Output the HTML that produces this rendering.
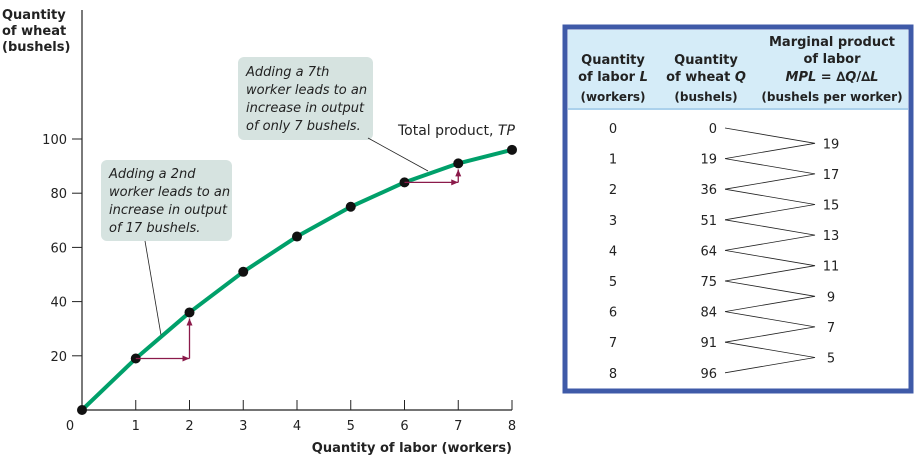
<!DOCTYPE html>
<html><head><meta charset="utf-8"><style>
body{margin:0;background:#fff;width:921px;height:460px;overflow:hidden;font-family:"DejaVu Sans","Liberation Sans",sans-serif}
svg{position:absolute;left:0;top:0}
</style></head><body>
<svg width="921" height="460">
<g id="axes"></g>
<g id="annot"></g>
<g id="table"></g>
</svg>
<script>
const labor=[0,1,2,3,4,5,6,7,8];
const wheat=[0,19,36,51,64,75,84,91,96];
const mpl=[19,17,15,13,11,9,7,5];
const yTicks=[20,40,60,80,100];
const NS="http://www.w3.org/2000/svg";
const X=v=>82+v*53.75, Y=v=>410-v*2.71;
function mk(p,t,a,txt){const e=document.createElementNS(NS,t);for(const k in a)e.setAttribute(k,a[k]);if(txt!==undefined)e.textContent=txt;p.appendChild(e);return e;}
const ax=document.getElementById('axes'),an=document.getElementById('annot'),tb=document.getElementById('table');
let e;
e=mk(ax,'path',{d:`M82,10 V410 H512`,stroke:'#222',fill:'none','stroke-width':1.2});

labor.forEach(v=>{ if(v>0){e=mk(ax,'line',{x1:X(v),x2:X(v),y1:400,y2:410,stroke:'#222'});}
 e=mk(ax,'text',{x:v==0?70:X(v),y:430,'font-size':13,'text-anchor':'middle',fill:'#222'},v);});
yTicks.forEach(v=>{e=mk(ax,'line',{x1:72,x2:82,y1:Y(v),y2:Y(v),stroke:'#222'});
 e=mk(ax,'text',{x:67,y:Y(v)+5,'font-size':13,'text-anchor':'end',fill:'#222'},v);});
[['Quantity',19],['of wheat',35],['(bushels)',51]].forEach(([t,y])=>{e=mk(ax,'text',{x:2,y:y,'font-size':13,'font-weight':'bold',fill:'#222'},t);});
e=mk(ax,'text',{x:512,y:452,'font-size':13,'font-weight':'bold','text-anchor':'end',fill:'#222'},'Quantity of labor (workers)');

e=mk(an,'rect',{x:101,y:160,width:131,height:81,rx:6,fill:'#d6e3e0'});
['Adding a 2nd','worker leads to an','increase in output','of 17 bushels.'].forEach((t,i)=>{e=mk(an,'text',{x:109,y:178+i*18,'font-size':13,'font-style':'italic',fill:'#222'},t);});
e=mk(an,'line',{x1:145,y1:241,x2:161,y2:335,stroke:'#222','stroke-width':0.8});
e=mk(an,'rect',{x:238,y:57,width:135,height:83,rx:6,fill:'#d6e3e0'});
['Adding a 7th','worker leads to an','increase in output','of only 7 bushels.'].forEach((t,i)=>{e=mk(an,'text',{x:246,y:76+i*18,'font-size':13,'font-style':'italic',fill:'#222'},t);});
e=mk(an,'line',{x1:368,y1:138,x2:428,y2:171,stroke:'#222','stroke-width':0.8});
e=mk(an,'text',{x:398,y:135,'font-size':14,fill:'#222'});
e.innerHTML='Total product, <tspan font-style="italic">TP</tspan>';
e=mk(ax,'polyline',{points:labor.map((v,i)=>X(v)+','+Y(wheat[i])).join(' '),fill:'none',stroke:'#00a06a','stroke-width':4,'stroke-linejoin':'round'});

function arrow(x1,y1,x2,y2){e=mk(an,'line',{x1,y1,x2,y2,stroke:'#8b1a4a','stroke-width':1.3});
 const a=Math.atan2(y2-y1,x2-x1),s=7;const p=[[x2,y2],[x2-s*Math.cos(a)+3*Math.sin(a),y2-s*Math.sin(a)-3*Math.cos(a)],[x2-s*Math.cos(a)-3*Math.sin(a),y2-s*Math.sin(a)+3*Math.cos(a)]];
 e=mk(an,'polygon',{points:p.map(q=>q.join(',')).join(' '),fill:'#8b1a4a'});}
arrow(X(1),Y(wheat[1]),X(2),Y(wheat[1]));arrow(X(2),Y(wheat[1]),X(2),Y(wheat[2])+6);
arrow(X(6),Y(wheat[6]),X(7),Y(wheat[6]));arrow(X(7),Y(wheat[6]),X(7),Y(wheat[7])+6);
labor.forEach((v,i)=>{e=mk(ax,'circle',{cx:X(v),cy:Y(wheat[i]),r:5,fill:'#111'});});
e=mk(tb,'rect',{x:565,y:27,width:346,height:364,fill:'#fff',stroke:'#3f5aa8','stroke-width':5});
e=mk(tb,'rect',{x:568,y:30,width:340,height:78,fill:'#d5ecf8'});
e=mk(tb,'line',{x1:568,x2:908,y1:109,y2:109,stroke:'#8fc2e6','stroke-width':1.5});
const hd=[[613,['Quantity','of labor <tspan font-style="italic">L</tspan>'],'(workers)'],[706,['Quantity','of wheat <tspan font-style="italic">Q</tspan>'],'(bushels)'],[832,null,'(bushels per worker)']];
hd.forEach(([x,l,sub])=>{ if(l){l.forEach((t,i)=>{e=mk(tb,'text',{x,y:64+i*17,'font-size':13,'font-weight':'bold','text-anchor':'middle',fill:'#222'});e.innerHTML=t;});}
 e=mk(tb,'text',{x,y:101,'font-size':12,'font-weight':'bold','text-anchor':'middle',fill:'#222'},sub);});
['Marginal product','of labor'].forEach((t,i)=>{e=mk(tb,'text',{x:832,y:46+i*17,'font-size':13,'font-weight':'bold','text-anchor':'middle',fill:'#222'},t);});
e=mk(tb,'text',{x:832,y:81,'font-size':13,'font-weight':'bold','text-anchor':'middle',fill:'#222'});e.innerHTML='<tspan font-style="italic">MPL</tspan> = ∆<tspan font-style="italic">Q</tspan>/∆<tspan font-style="italic">L</tspan>';
const RY=i=>133+i*30.6;
labor.forEach((v,i)=>{e=mk(tb,'text',{x:613,y:RY(i),'font-size':13,'text-anchor':'middle',fill:'#222'},v);
 e=mk(tb,'text',{x:717,y:RY(i),'font-size':13,'text-anchor':'end',fill:'#222'},wheat[i]);});
mpl.forEach((m,i)=>{const ym=RY(i)+15.3-5;
 e=mk(tb,'polyline',{points:`725,${RY(i)-5} 815,${ym} 725,${RY(i+1)-5}`,fill:'none',stroke:'#222','stroke-width':0.8});
 e=mk(tb,'text',{x:831,y:ym+5,'font-size':13,'text-anchor':'middle',fill:'#222'},m);});
</script>
</body></html>
